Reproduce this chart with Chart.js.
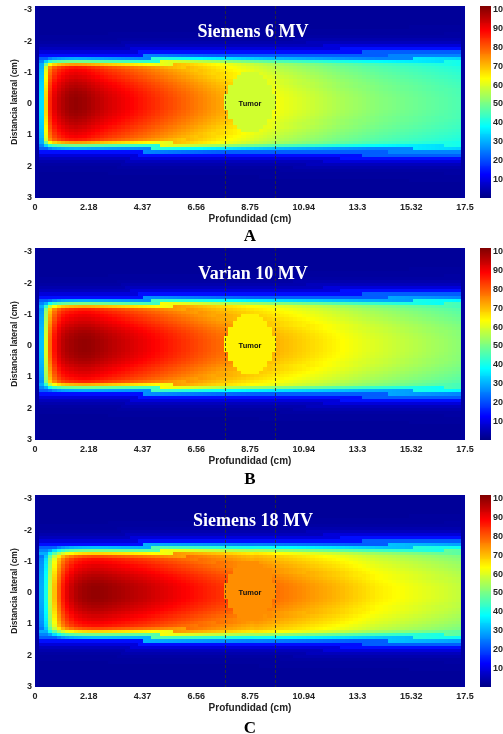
<!DOCTYPE html>
<html><head><meta charset="utf-8">
<script src="https://cdn.jsdelivr.net/npm/chart.js@4/dist/chart.umd.min.js"></script>
<style>
html,body{margin:0;padding:0;background:#fff;overflow:hidden;}
body{width:503px;height:734px;position:relative;}
.panel{position:absolute;left:0;width:520px;}
.panel canvas{display:block;}
.letter{position:absolute;left:0;width:500px;text-align:center;font:bold 17px "Liberation Serif",serif;color:#000;line-height:17px;}
</style></head><body>
<div class="panel" style="top:0;height:240px"><canvas id="cA" width="520" height="240"></canvas></div>
<div class="panel" style="top:240px;height:240px"><canvas id="cB" width="520" height="240"></canvas></div>
<div class="panel" style="top:480px;height:254px"><canvas id="cC" width="520" height="254"></canvas></div>
<div class="letter" style="top:227px">A</div>
<div class="letter" style="top:470px">B</div>
<div class="letter" style="top:719px">C</div>
<script>
// ---------- data ----------
const titles = ['Siemens 6 MV', 'Varian 10 MV', 'Siemens 18 MV'];
const xTickValues = [0, 2.1875, 4.375, 6.5625, 8.75, 10.9375, 13.125, 15.3125, 17.5];
const xTickLabels = ['0', '2.18', '4.37', '6.56', '8.75', '10.94', '13.3', '15.32', '17.5'];
const yTickValues = [-3, -2, -1, 0, 1, 2, 3];
const cbTickValues = [10, 20, 30, 40, 50, 60, 70, 80, 90, 100];
const depthStep = 0.175;   // cm per depth cell
const latStep = 0.1;       // cm per lateral cell

// central-axis dose (%) per depth cell (0.175 cm)
const pdd6 = [3,35,68,86,92,95,97,98.5,99.5,100,99.5,99,98,97,96,95,94,93.2,92.4,91.6,
  90.8,90,89.2,88.4,87.6,86.8,86,85.2,84.4,83.6,82.8,82,81.2,80.4,79.6,78.8,78,77.2,76.4,75.6,
  74.8,74,73.2,72.4,71.6,70.8,70,69.2,68.4,67.6,66.8,66,65.3,64.6,63.9,63.3,62.7,62.1,61.6,61.1,
  60.6,60.1,59.6,59.1,58.6,58.1,57.6,57.1,56.6,56.1,55.6,55.2,54.8,54.4,54,53.6,53.2,52.8,52.4,52,
  51.6,51.3,51,50.7,50.4,50.1,49.8,49.5,49.2,48.9,48.6,48.3,48,47.7,47.4,47.1,46.8,46.5,46.2,3];
const pdd10 = [3,32,60,79,88,93,96,97.5,98.5,99.3,99.8,100,99.8,99.3,98.6,97.9,97.2,96.5,95.8,95.1,
  94.4,93.7,93,92.3,91.6,90.9,90.2,89.5,88.8,88.1,87.4,86.7,86,85.3,84.6,83.9,83.2,82.5,81.8,81.1,
  80.4,79.7,79,78.4,77.8,77.2,76.6,76,75.4,74.8,74.3,73.8,73.3,72.8,72.3,71.8,71.3,70.8,70.3,69.8,
  69.3,68.8,68.3,67.8,67.3,66.8,66.3,65.8,65.3,64.8,64.3,63.8,63.3,62.8,62.3,61.8,61.3,60.9,60.5,60.1,
  59.7,59.3,58.9,58.5,58.1,57.7,57.3,56.9,56.5,56.1,55.7,55.3,54.9,54.5,54.1,53.7,53.3,52.9,52.5,3];
const pdd18 = [3,30,40,58,70,80,87,91.5,94.5,96.8,98,99,99.6,100,100,99.8,99.4,99,98.5,98,
  97.5,97,96.5,96,95.5,95,94.4,93.8,93.2,92.6,92,91.4,90.8,90.2,89.6,89,88.4,87.8,87.2,86.6,
  86,85.4,84.8,84.2,83.6,83,82.4,81.8,81.2,80.6,80,80.5,80,79.5,79,78.5,78,77.5,77,76.5,
  76,75.5,75,74.5,74,73.5,73,72.5,72,71.5,71,70.4,69.8,69.2,68.6,68,67.4,66.8,66.2,65.6,
  65.2,64.8,64.4,64,63.6,63.2,62.8,62.4,62,61.6,61.2,60.8,60.4,60,59.6,59.2,58.8,58.4,58,3];

// relative lateral profile per 0.1 cm from the axis (0 .. 3.2 cm)
const core6  = [1,1,0.995,0.99,0.98,0.97,0.96,0.945,0.93,0.915,0.9,0.87,0.74,0.5,0.3,0,0,0,0,0,0,0,0,0,0,0,0,0,0,0,0,0];
const core10 = [1,1,0.995,0.99,0.98,0.97,0.955,0.94,0.925,0.91,0.89,0.86,0.72,0.5,0.3,0,0,0,0,0,0,0,0,0,0,0,0,0,0,0,0,0];
const core18 = [1,1,0.995,0.985,0.975,0.965,0.95,0.935,0.92,0.9,0.88,0.82,0.68,0.5,0.32,0,0,0,0,0,0,0,0,0,0,0,0,0,0,0,0,0];
// out-of-field dose (%) per 0.1 cm from the axis
const halo = [0,0,0,0,0,0,0,0,0,0,0,0,30,26,22,14,9,6,4.5,3.5,3,3,2.5,2.5,2.5,2.5,2.5,2.5,2.5,2.5,2.5,2.5];
// dose inside the tumour (%)
const tumorDose = [59, 65, 75];
const tumorCenter = [8.75, -0.05];   // depth, lateral (cm)
const tumorSemiAxes = [1.0, 0.95];    // cm
const tumorEdges = [7.75, 9.75];      // dashed lines (cm)
const divergencePerCm = 0.0075;

const machines = [
  {pdd: pdd6, core: core6, tumor: tumorDose[0]},
  {pdd: pdd10, core: core10, tumor: tumorDose[1]},
  {pdd: pdd18, core: core18, tumor: tumorDose[2]}
];

// ---------- helpers ----------
const DOSE_MAX = 102;
const Y_MIN = -3.12, Y_MAX = 3.02;
function clamp(v){ return Math.max(0, Math.min(1, v)); }
function jet(v){
  const t = clamp(v / DOSE_MAX);
  const r = clamp(1.5 - Math.abs(4*t - 3));
  const g = clamp(1.5 - Math.abs(4*t - 2));
  const b = clamp(1.5 - Math.abs(4*t - 1));
  return 'rgb(' + Math.round(r*255) + ',' + Math.round(g*255) + ',' + Math.round(b*255) + ')';
}
function cellDose(m, i, j){
  const p = m.pdd[i];
  if (p <= 5) return p;
  const d = (i + 0.5) * depthStep;
  const yc = (j + 0.5) * latStep;
  const ex = (d - tumorCenter[0]) / tumorSemiAxes[0];
  const ey = (yc - tumorCenter[1]) / tumorSemiAxes[1];
  if (ex*ex + ey*ey <= 1) return m.tumor;
  const s = 1 + divergencePerCm * d;
  const k = Math.min(m.core.length - 1, Math.floor(Math.abs(yc) / s / latStep + 1e-9));
  return Math.max(p * m.core[k], halo[k]);
}

const tickFont = {family: 'Liberation Sans, Arial, sans-serif', size: 9, weight: 'bold'};
function noPad(s){ s.paddingTop = 0; s.paddingBottom = 0; s.paddingLeft = 0; s.paddingRight = 0; }

function makeChart(id, idx, cfg){
  const m = machines[idx];
  const plugin = {
    id: 'heat' + idx,
    beforeDatasetsDraw(chart){
      const {ctx, chartArea: a, scales: {x, y}} = chart;
      ctx.save();
      ctx.beginPath(); ctx.rect(a.left, a.top, a.right - a.left, a.bottom - a.top); ctx.clip();
      const jStart = Math.floor(Y_MIN / latStep), jEnd = Math.ceil(Y_MAX / latStep);
      for (let i = 0; i < m.pdd.length; i++){
        const x0 = Math.round(x.getPixelForValue(i * depthStep));
        const x1 = Math.round(x.getPixelForValue((i + 1) * depthStep));
        for (let j = jStart; j < jEnd; j++){
          const y0 = Math.round(y.getPixelForValue(j * latStep));
          const y1 = Math.round(y.getPixelForValue((j + 1) * latStep));
          ctx.fillStyle = jet(cellDose(m, i, j));
          ctx.fillRect(x0, Math.min(y0, y1), x1 - x0, Math.abs(y1 - y0));
        }
      }
      // tumour boundaries
      ctx.strokeStyle = 'rgba(45,45,45,0.85)';
      ctx.lineWidth = 1;
      ctx.setLineDash([3, 2]);
      tumorEdges.forEach(v => {
        const px = Math.round(x.getPixelForValue(v)) + 0.5;
        ctx.beginPath(); ctx.moveTo(px, a.top); ctx.lineTo(px, a.bottom); ctx.stroke();
      });
      ctx.setLineDash([]);
      ctx.fillStyle = '#111';
      ctx.font = 'bold 7.5px "Liberation Sans", Arial, sans-serif';
      ctx.textAlign = 'center'; ctx.textBaseline = 'middle';
      ctx.fillText('Tumor', x.getPixelForValue(tumorCenter[0]), y.getPixelForValue(0));
      // title
      ctx.fillStyle = '#fff';
      ctx.font = 'bold 18px "Liberation Serif", "Times New Roman", serif';
      ctx.fillText(titles[idx], (a.left + a.right) / 2 + 3, a.top + 26);
      ctx.restore();
      // colour bar
      const cb = chart.scales.cb;
      for (let v = 0; v < DOSE_MAX; v += 0.5){
        const ya = cb.getPixelForValue(v + 0.5), yb = cb.getPixelForValue(v);
        ctx.fillStyle = jet(v + 0.25);
        ctx.fillRect(480, Math.floor(ya), 11, Math.ceil(yb) - Math.floor(ya));
      }
    }
  };
  return new Chart(document.getElementById(id), {
    type: 'scatter',
    data: {datasets: [{data: [], pointRadius: 0}]},
    options: {
      responsive: false, animation: false,
      layout: {padding: {top: cfg.top, left: 0, right: 0, bottom: 0}},
      plugins: {legend: {display: false}, tooltip: {enabled: false}},
      scales: {
        x: {
          type: 'linear', position: 'bottom', min: 0, max: 17.5,
          grid: {display: false, drawTicks: false}, border: {display: false},
          afterBuildTicks: s => { s.ticks = xTickValues.map(v => ({value: v})); },
          afterFit: s => { s.height = cfg.xh; noPad(s); },
          ticks: {autoSkip: false, maxRotation: 0, padding: 4, color: '#222', font: tickFont,
                  callback: (v, i) => xTickLabels[i]},
          title: {display: true, text: 'Profundidad (cm)', color: '#222',
                  font: {family: 'Liberation Sans, Arial, sans-serif', size: 10, weight: 'bold'},
                  padding: {top: 0, bottom: cfg.xh - 27}}
        },
        y: {
          type: 'linear', position: 'left', min: Y_MIN, max: Y_MAX, reverse: true,
          grid: {display: false, drawTicks: false}, border: {display: false},
          afterBuildTicks: s => { s.ticks = yTickValues.map(v => ({value: v})); },
          afterFit: s => { s.width = 35; noPad(s); },
          ticks: {padding: 3, color: '#222', font: tickFont, callback: v => String(v)},
          title: {display: true, text: 'Distancia lateral (cm)', color: '#222',
                  font: {family: 'Liberation Sans, Arial, sans-serif', size: 8.5, weight: 'bold'},
                  padding: {top: 9.5, bottom: 0}}
        },
        cb: {
          type: 'linear', position: 'right', min: 0, max: DOSE_MAX,
          grid: {display: false, drawTicks: false}, border: {display: false},
          afterBuildTicks: s => { s.ticks = cbTickValues.map(v => ({value: v})); },
          afterFit: s => { s.width = 55; noPad(s); },
          ticks: {padding: 28, color: '#222', font: tickFont, callback: v => String(v)}
        }
      }
    },
    plugins: [plugin]
  });
}

makeChart('cA', 0, {top: 6, xh: 42});
makeChart('cB', 1, {top: 8, xh: 40});
makeChart('cC', 2, {top: 15, xh: 47});
</script>
</body></html>
